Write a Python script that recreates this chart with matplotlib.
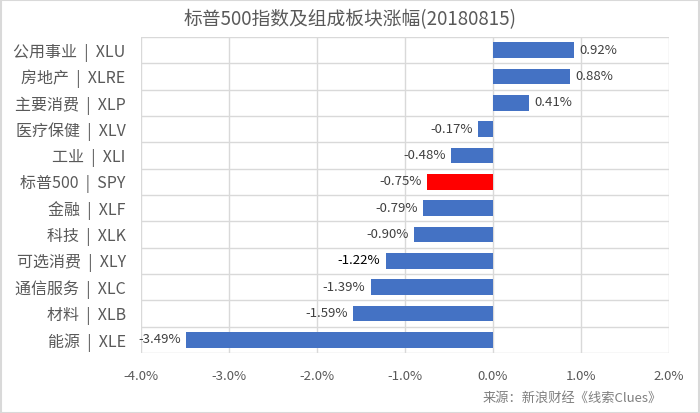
import matplotlib.pyplot as plt
from matplotlib.ticker import FuncFormatter, FixedLocator
from matplotlib.patches import Rectangle

plt.rcParams['font.family'] = ['Noto Sans CJK SC', 'DejaVu Sans']

# data, top to bottom as shown
categories = ['公用事业 | XLU', '房地产 | XLRE', '主要消费 | XLP', '医疗保健 | XLV',
              '工业 | XLI', '标普500 | SPY', '金融 | XLF', '科技 | XLK',
              '可选消费 | XLY', '通信服务 | XLC', '材料 | XLB', '能源 | XLE']
changes = [0.92, 0.88, 0.41, -0.17, -0.48, -0.75, -0.79, -0.90, -1.22, -1.39, -1.59, -3.49]
highlight = '标普500 | SPY'

title = '标普500指数及组成板块涨幅(20180815)'
source = '来源：新浪财经《线索Clues》'

fig = plt.figure(figsize=(7, 4.13), dpi=100)
ax = fig.add_axes([0.2014, 0.1453, 0.7543, 0.765])

ypos = list(range(len(categories)))[::-1]
colors = ['#FF0000' if c == highlight else '#4472C4' for c in categories]
ax.barh(ypos, changes, height=0.6, color=colors, zorder=3)

for y, v in zip(ypos, changes):
    col = '#000000' if v == -1.22 else '#404040'
    if v >= 0:
        ax.text(v + 0.06, y, f'{v:.2f}%', va='center', ha='left', fontsize=9.5, color=col)
    else:
        ax.text(v - 0.06, y, f'{v:.2f}%', va='center', ha='right', fontsize=9.5, color=col)

ax.set_xlim(-4, 2)
ax.set_ylim(-0.5, len(categories) - 0.5)
ax.set_xticks([-4, -3, -2, -1, 0, 1, 2])
ax.xaxis.set_major_formatter(FuncFormatter(lambda x, p: f'{x:.1f}%'))
ax.set_yticks(ypos)
ax.set_yticklabels([c.replace(' | ', '  |  ') for c in categories], fontsize=11.5, color='#595959')
ax.yaxis.set_minor_locator(FixedLocator([i - 0.5 for i in range(len(categories) + 1)]))
ax.tick_params(axis='x', labelsize=9.5, colors='#595959', length=0, pad=12)
ax.tick_params(axis='y', which='both', length=0, pad=11)
ax.grid(axis='x', which='major', color='#d9d9d9', linewidth=1, zorder=0)
ax.grid(axis='y', which='minor', color='#d9d9d9', linewidth=1, zorder=0)
for s in ax.spines.values():
    s.set_visible(False)

fig.text(0.5, 0.952, title, ha='center', va='center', fontsize=13.5, color='#595959')
fig.text(0.945, 0.035, source, ha='right', va='center', fontsize=9.5, color='#7f7f7f')

fig.patches.append(Rectangle((0.001, 0.001), 0.998, 0.998, transform=fig.transFigure,
                             fill=False, edgecolor='#d9d9d9', linewidth=1.5))

fig.savefig('out.png', dpi=100)
